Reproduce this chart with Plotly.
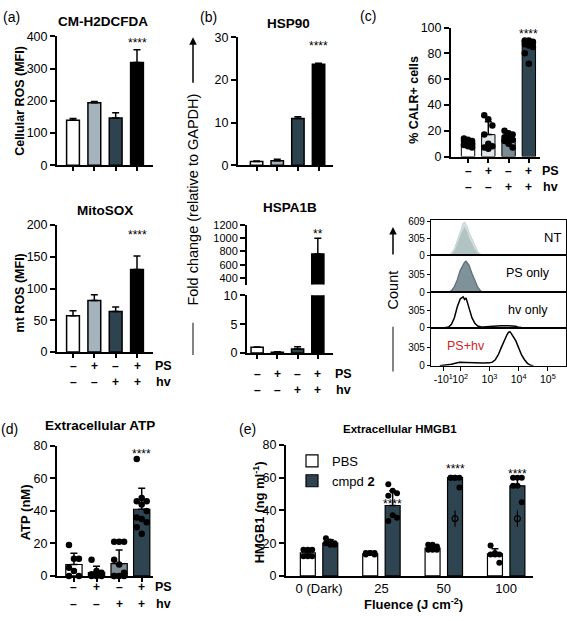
import plotly.graph_objects as go

W, H = 567, 621
FONT = "Liberation Sans, Arial, Helvetica, sans-serif"

# ---------------- data ----------------
conditions = [0, 1, 2, 3]
ps_row = ["–", "+", "–", "+"]
hv_row = ["–", "–", "+", "+"]

ros_mean = [140, 194, 147, 319]
ros_sd = [5, 4, 16, 39]
mito_mean = [57, 81, 64, 130]
mito_sd = [8, 9, 7, 21]
hsp90_mean = [0.9, 1.1, 11.0, 23.7]
hsp90_sd = [0.1, 0.3, 0.4, 0.2]
hspa1b_mean = [1.0, 0.15, 0.7, 760]
hspa1b_sd = [0.05, 0.05, 0.4, 240]

calr_mean = [10.5, 17, 14, 86]
calr_sd = [2, 10, 3, 1.5]
calr_pts = [[14, 13, 12, 12, 11, 10, 9, 8, 7],
            [32, 29, 24, 17, 10, 8, 7, 6],
            [20, 18, 17, 15, 14, 13, 12, 10, 7],
            [90, 90, 89, 89, 88, 88, 87, 86, 85, 80, 72]]

atp_mean = [7, 2, 7.5, 41]
atp_sd = [7, 4, 8.5, 13]
atp_pts = [[19, 10.5, 10.5, 5, 3, 0, 0],
           [10, 3, 2, 1, 0.5, 0, 0, 0],
           [21, 21, 21, 10, 7, 2, 0, 0, 0, 0],
           [72, 48, 46, 46, 44, 40, 36, 35, 33, 30, 26]]

fluence = ["0 (Dark)", "25", "50", "100"]
pbs_mean = [14, 13.5, 17, 13.5]
pbs_sd = [2, 1, 2, 3]
cmpd_mean = [20, 43, 60, 55]
cmpd_sd = [2, 9, 0.4, 4.5]
pbs_pts = [[16, 16, 16, 12, 12, 12], [14, 14, 13, 13, 14, 14],
           [19, 19, 18, 16, 16, 16], [18.5, 14, 13, 13, 13, 8]]
cmpd_pts = [[23, 21, 20, 20, 19, 19], [56, 52, 50.5, 49, 37, 35.5, 33.5],
            [60, 60, 60, 60, 60, 54], [60, 60, 60, 55, 55, 45]]
cmpd_open_pts = [None, None, 35, 35]
cmpd_open_sd = [0, 0, 5, 5]

# flow cytometry histograms (x = log-like display units, y = count)
hist_ticks = [1.42, 2, 3, 4, 5]
hist_ticktext = ["-10<sup>1</sup>", "10<sup>2</sup>", "10<sup>3</sup>", "10<sup>4</sup>", "10<sup>5</sup>"]
nt_u = [1.6, 1.7, 1.8, 1.9, 2.0, 2.05, 2.1, 2.15, 2.2, 2.25, 2.3, 2.4, 2.5, 2.6, 2.7, 2.8]
nt_c = [0, 40, 120, 260, 420, 500, 580, 609, 560, 520, 420, 300, 170, 70, 20, 0]
nt2_c = [0, 20, 80, 200, 340, 420, 480, 520, 470, 420, 330, 220, 110, 40, 10, 0]
ps_u = [1.6, 1.7, 1.8, 1.9, 2.0, 2.1, 2.15, 2.2, 2.25, 2.3, 2.4, 2.5, 2.6, 2.7, 2.8]
ps_c = [0, 30, 100, 220, 380, 480, 520, 540, 510, 470, 330, 200, 90, 25, 0]
hv_u = [1.5, 1.6, 1.7, 1.8, 1.9, 2.0, 2.05, 2.1, 2.15, 2.2, 2.25, 2.3, 2.4, 2.5, 2.6,
        2.7, 2.8, 3.0, 3.2, 3.4, 3.6, 3.8, 3.9, 4.0, 4.1]
hv_c = [0, 10, 60, 180, 380, 520, 540, 560, 510, 540, 450, 350, 180, 80, 30,
        15, 12, 20, 30, 35, 35, 30, 25, 5, 0]
pshv_u = [1.3, 1.5, 1.7, 1.9, 2.0, 2.2, 2.4, 2.6, 2.8, 3.0, 3.1, 3.2, 3.3, 3.4, 3.5,
          3.6, 3.65, 3.7, 3.75, 3.8, 3.9, 4.0, 4.1, 4.2, 4.3, 4.4, 4.5]
pshv_c = [0, 10, 25, 50, 60, 55, 50, 45, 45, 48, 60, 100, 180, 300, 420,
          520, 560, 570, 540, 500, 420, 300, 180, 100, 40, 10, 0]

a_colors = ["white", "#a4b3bc", "#2d4450", "black"]
c_colors = ["white", "#dde6e8", "#7b8c95", "#2e4551"]

# ---------------- helpers ----------------
fig = go.Figure()
layout = {}
annotations = []
shapes = []
count = [0]


def axes(x0, x1, y0, y1, xr, yr):
    count[0] += 1
    n = count[0]
    s = "" if n == 1 else str(n)
    layout["xaxis" + s] = dict(domain=[x0 / W, x1 / W], range=xr, anchor="y" + s,
                               showgrid=False, zeroline=False)
    layout["yaxis" + s] = dict(domain=[1 - y1 / H, 1 - y0 / H], range=yr, anchor="x" + s,
                               showgrid=False, zeroline=False)
    return "x" + s, "y" + s, layout["xaxis" + s], layout["yaxis" + s]


def style_bar_axes(xa, ya, dtick, tsize=12.5, xticks=True):
    xa.update(showline=True, linecolor="black", linewidth=2,
              ticks="outside" if xticks else "", ticklen=4, tickwidth=1.5, tickcolor="black",
              tickvals=conditions, showticklabels=False)
    ya.update(showline=True, linecolor="black", linewidth=2, ticks="outside", ticklen=5,
              tickwidth=1.5, tickcolor="black", dtick=dtick,
              tickfont=dict(size=tsize, color="black", family=FONT))


def P(xp, yp):
    return xp / W, 1 - yp / H


def ann(text, xp, yp, size, bold=False, color="black", angle=0, xanchor="center"):
    x, y = P(xp, yp)
    annotations.append(dict(text=("<b>%s</b>" % text) if bold else text, x=x, y=y,
                            xref="paper", yref="paper", showarrow=False, textangle=angle,
                            xanchor=xanchor, yanchor="middle",
                            font=dict(size=size, color=color, family=FONT)))


def star(text, xref, yref, x, y, size=12):
    annotations.append(dict(text=text, x=x, y=y, xref=xref, yref=yref, showarrow=False,
                            yanchor="middle", font=dict(size=size, color="black", family=FONT)))


def cond_rows(xref, y_ps, y_hv, x_lab):
    for i in conditions:
        for txt, yp in ((ps_row[i], y_ps), (hv_row[i], y_hv)):
            annotations.append(dict(text="<b>%s</b>" % txt, x=i, y=1 - yp / H, xref=xref,
                                    yref="paper", showarrow=False, yanchor="middle",
                                    font=dict(size=12, color="black", family=FONT)))
    ann("PS", x_lab, y_ps, 12.5, bold=True)
    ann("hv", x_lab, y_hv, 12.5, bold=True)


def bars(xref, yref, x, y, sd, colors, width, lw=1.5, name=None, legend=False):
    fig.add_trace(go.Bar(x=x, y=y, xaxis=xref, yaxis=yref, width=width, name=name,
                         showlegend=legend,
                         marker=dict(color=colors, line=dict(color="black", width=lw)),
                         error_y=dict(type="data", symmetric=False, array=sd,
                                      arrayminus=[0] * len(sd), color="black",
                                      thickness=1.5, width=3.5)))


def dots(xref, yref, center, vals, half, size=6.5):
    xs = [center + ((k % 3) - 1) * half for k in range(len(vals))]
    fig.add_trace(go.Scatter(x=xs, y=vals, xaxis=xref, yaxis=yref, mode="markers",
                             showlegend=False, cliponaxis=False,
                             marker=dict(color="black", size=size)))


# ---------------- (a) ----------------
xr, yr, xa, ya = axes(57, 153, 30, 162, [-0.75, 3.75], [0, 400])
style_bar_axes(xa, ya, 100)
bars(xr, yr, conditions, ros_mean, ros_sd, a_colors, 0.6)
star("****", xr, yr, 3, 378)

xr, yr, xa, ya = axes(57, 153, 223, 353, [-0.75, 3.75], [0, 200])
style_bar_axes(xa, ya, 50)
bars(xr, yr, conditions, mito_mean, mito_sd, a_colors, 0.6)
star("****", xr, yr, 3, 184)
cond_rows(xr, 367, 384, 163)

ann("(a)", 11, 10, 14)
ann("CM-H2DCFDA", 103, 15, 13.5, bold=True)
ann("MitoSOX", 105, 208, 13.5, bold=True)
ann("Cellular ROS (MFI)", 20, 96, 12.5, bold=True, angle=-90)
ann("mt ROS (MFI)", 20, 293, 12.5, bold=True, angle=-90)

# ---------------- (b) ----------------
xr, yr, xa, ya = axes(238, 333, 31, 162, [-0.9, 3.7], [0, 30])
style_bar_axes(xa, ya, 10)
bars(xr, yr, conditions, hsp90_mean, hsp90_sd, a_colors, 0.6)
star("****", xr, yr, 3, 28)

xr, yr, xa, ya = axes(247, 333, 295, 354, [-0.5, 3.75], [0, 10])
style_bar_axes(xa, ya, 5)
bars(xr, yr, conditions, hspa1b_mean, hspa1b_sd, a_colors, 0.6)
cond_rows(xr, 375, 392, 343)

xr, yr, xa, ya = axes(247, 333, 223, 284, [-0.5, 3.75], [300, 1200])
style_bar_axes(xa, ya, 200, tsize=11)
xa.update(visible=False)
ya.update(tickvals=[400, 600, 800, 1000, 1200])
bars(xr, yr, conditions, hspa1b_mean, hspa1b_sd, a_colors, 0.6)
star("**", xr, yr, 3, 1070)

ann("(b)", 208, 10, 14)
ann("HSP90", 288, 17, 13.5, bold=True)
ann("HSPA1B", 290, 205, 13.5, bold=True)
ann("Fold change (relative to GAPDH)", 193, 197, 14.5, angle=-90)
annotations.append(dict(text="", x=193 / W, y=1 - 31 / H, xref="paper", yref="paper",
                        showarrow=True, ax=0, ay=47, arrowhead=2, arrowsize=1,
                        arrowwidth=1.5, arrowcolor="black"))
shapes.append(dict(type="line", xref="paper", yref="paper", x0=193 / W, x1=193 / W,
                   y0=1 - 323 / H, y1=1 - 356 / H, line=dict(color="#333", width=1.2)))

# ---------------- (c) ----------------
xr, yr, xa, ya = axes(451, 540, 21, 153, [-0.84, 3.55], [0, 100])
style_bar_axes(xa, ya, 20)
bars(xr, yr, conditions, calr_mean, calr_sd, c_colors, 0.66, lw=1)
for i in conditions:
    dots(xr, yr, i, calr_pts[i], 0.2, size=6.5)
star("****", xr, yr, 3, 95)
cond_rows(xr, 168, 184, 550)
ann("(c)", 368, 9, 14)
ann("% CALR+ cells", 414, 95, 12.5, bold=True, angle=-90)

# histograms
hist_rows = [(218, 254), (254, 292), (292, 328), (328, 367)]
hist_axes = []
for k, (t, b) in enumerate(hist_rows):
    xr, yr, xa, ya = axes(431, 566, t, b, [1.0, 5.62], [0, 640])
    xa.update(showline=True, mirror=True, linecolor="black", linewidth=1.2,
              tickvals=hist_ticks, ticktext=hist_ticktext,
              ticks="outside" if k == 3 else "", showticklabels=(k == 3), tickangle=0,
              ticklen=4, tickcolor="black", tickfont=dict(size=10.5, color="black", family=FONT))
    ya.update(showline=True, mirror=True, linecolor="black", linewidth=1.2,
              ticks="outside", ticklen=3, tickcolor="black",
              tickvals=[0, 305, 609] if k == 0 else [0, 305],
              tickfont=dict(size=10, color="black", family=FONT))
    hist_axes.append((xr, yr))


def hist(ax, u, c, fill, line, lw=1.2, fillmode="tozeroy"):
    fig.add_trace(go.Scatter(x=u, y=c, xaxis=ax[0], yaxis=ax[1], mode="lines",
                             fill=fillmode, fillcolor=fill, showlegend=False,
                             line=dict(color=line, width=lw)))


hist(hist_axes[0], nt_u, nt_c, "#d4dfdf", "#c6d3d3", 1)
hist(hist_axes[0], nt_u, nt2_c, "rgba(150,172,172,0.55)", "rgba(0,0,0,0)", 0)
hist(hist_axes[1], ps_u, ps_c, "#7f9299", "#5f7279", 1.3)
hist(hist_axes[2], hv_u, hv_c, "rgba(0,0,0,0)", "black", 1.5, "none")
hist(hist_axes[3], pshv_u, pshv_c, "rgba(0,0,0,0)", "black", 1.5, "none")

ann("NT", 552, 236, 13)
ann("PS only", 528, 272, 12.5)
ann("hv only", 528, 310, 12.5)
ann("PS+hv", 466, 347, 12.5, color="#d42424")
ann("Count", 393, 290, 14.5, angle=-90)
annotations.append(dict(text="", x=393 / W, y=1 - 225 / H, xref="paper", yref="paper",
                        showarrow=True, ax=0, ay=29, arrowhead=2, arrowsize=1,
                        arrowwidth=1.5, arrowcolor="black"))
shapes.append(dict(type="line", xref="paper", yref="paper", x0=393 / W, x1=393 / W,
                   y0=1 - 327 / H, y1=1 - 373 / H, line=dict(color="#333", width=1.2)))

# ---------------- (d) ----------------
xr, yr, xa, ya = axes(57, 153, 449, 582, [-0.75, 3.5], [0, 80])
style_bar_axes(xa, ya, 20)
bars(xr, yr, conditions, atp_mean, atp_sd, c_colors, 0.72, lw=1.2)
for i in conditions:
    dots(xr, yr, i, atp_pts[i], 0.22, size=6.5)
star("****", xr, yr, 3, 75)
cond_rows(xr, 593, 611, 163)
ann("(d)", 9, 432, 14)
ann("Extracellular ATP", 100, 428, 13.5, bold=True)
ann("ATP (nM)", 25, 517, 13, bold=True, angle=-90)

# ---------------- (e) ----------------
xr, yr, xa, ya = axes(286, 533, 448, 582, [-0.53, 3.43], [0, 80])
style_bar_axes(xa, ya, 20, xticks=False)
xa.update(showticklabels=True, ticktext=fluence, ticks="",
          tickfont=dict(size=13, color="black", family=FONT))
off = 0.18
bars(xr, yr, [i - off for i in conditions], pbs_mean, pbs_sd, "white", 0.24, lw=1.2,
     name="PBS", legend=True)
bars(xr, yr, [i + off for i in conditions], cmpd_mean, cmpd_sd, "#2e4551", 0.24, lw=1.2,
     name="cmpd <b>2</b>", legend=True)
for i in conditions:
    dots(xr, yr, i - off, pbs_pts[i], 0.07, size=6)
    dots(xr, yr, i + off, cmpd_pts[i], 0.07, size=6)
fig.add_trace(go.Scatter(x=[i + off for i in conditions], y=cmpd_open_pts, xaxis=xr, yaxis=yr,
                         mode="markers", showlegend=False,
                         marker=dict(symbol="circle-open", color="black", size=6,
                                     line=dict(width=1.2)),
                         error_y=dict(type="data", array=cmpd_open_sd, color="black",
                                      thickness=1.2, width=0)))
star("****", xr, yr, 1 + off, 44)
star("****", xr, yr, 2 + off, 65)
star("****", xr, yr, 3 + off, 62)
ann("(e)", 247, 432, 14)
ann("Extracellular HMGB1", 400, 432, 11.5, bold=True)
ann("Fluence (J cm<sup>-2</sup>)", 413, 611, 13, bold=True)
ann("HMGB1 (ng ml<sup>-1</sup>)", 259, 517, 13, bold=True, angle=-90)

fig.update_layout(
    **layout,
    width=W, height=H,
    margin=dict(l=0, r=0, t=0, b=0),
    paper_bgcolor="white", plot_bgcolor="white",
    barmode="overlay",
    font=dict(family=FONT, color="black"),
    annotations=annotations, shapes=shapes,
    showlegend=True,
    legend=dict(x=292 / W, y=1 - 449 / H, xanchor="left", yanchor="top",
                bgcolor="rgba(0,0,0,0)", font=dict(size=13, family=FONT, color="black"),
                tracegroupgap=0, itemwidth=30),
)

fig.write_html("out.html", config={"displayModeBar": False},
               post_script="document.body.style.margin='0px';document.body.style.overflow='hidden';")
